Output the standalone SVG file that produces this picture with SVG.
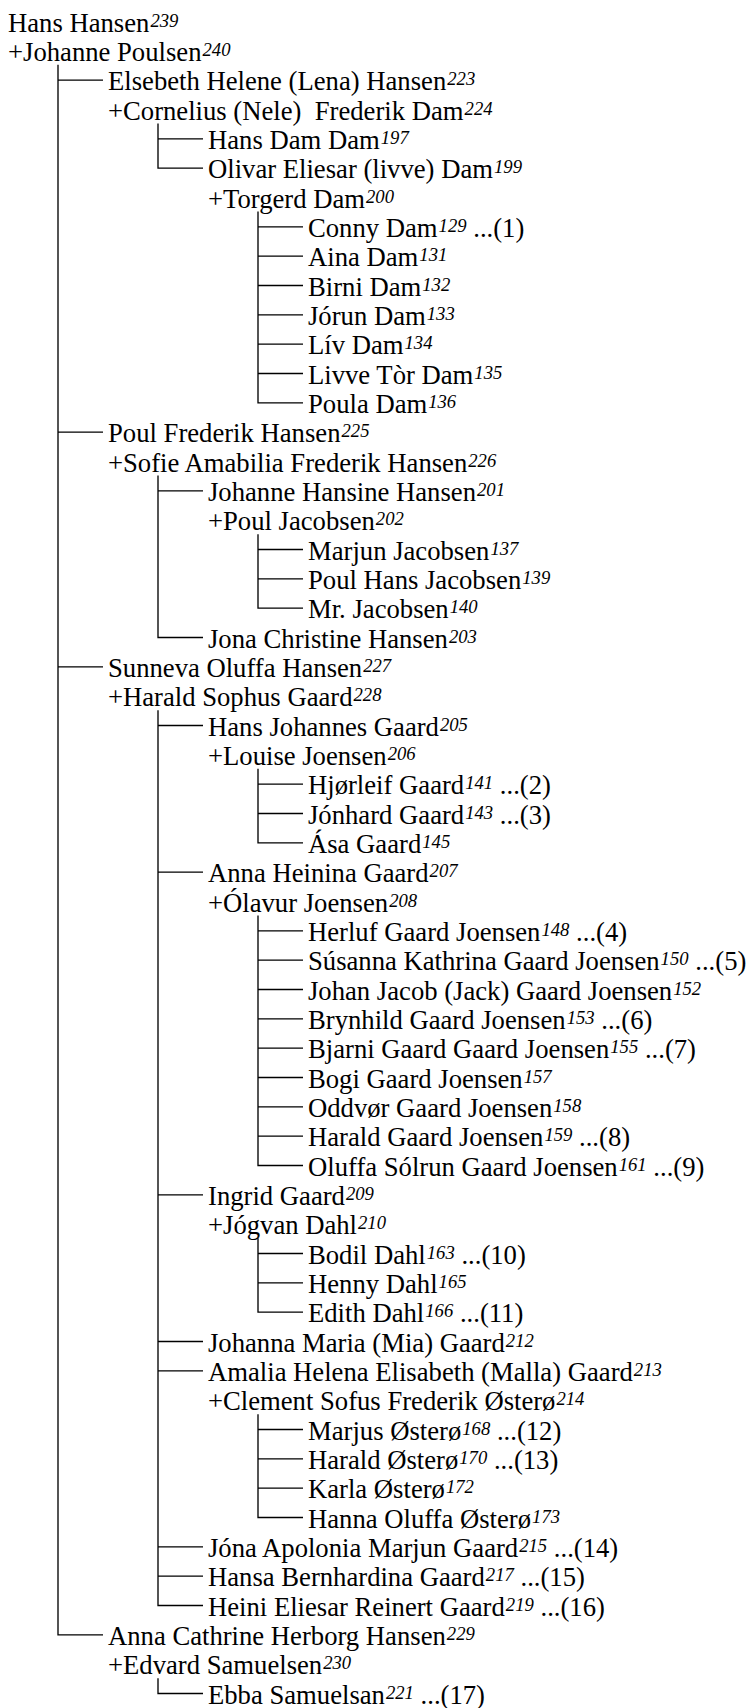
<svg xmlns="http://www.w3.org/2000/svg" width="752" height="1708" viewBox="0 0 752 1708">
<style>
.t{font-family:"Liberation Serif","Times New Roman",serif;font-size:26.67px;fill:#000}
.s{font-style:italic;font-size:18.67px}
.c{fill:none;stroke:#000;stroke-width:1.33}
</style>
<rect width="752" height="1708" fill="#fff"/>
<g id="connectors" class="c">
<path d="M58,64.8V1634.8H103M58,80.2H103M58,432.2H103M58,666.8H103"/>
<path d="M158,123.5V168.2H203M158,138.8H203"/>
<path d="M258,211.5V402.8H303M258,226.8H303M258,256.2H303M258,285.5H303M258,314.8H303M258,344.2H303M258,373.5H303"/>
<path d="M158,475.5V637.5H203M158,490.8H203"/>
<path d="M258,534.2V608.2H303M258,549.5H303M258,578.8H303"/>
<path d="M158,710.2V1605.5H203M158,725.5H203M158,872.2H203M158,1194.8H203M158,1341.5H203M158,1370.8H203M158,1546.8H203M158,1576.2H203"/>
<path d="M258,768.8V842.8H303M258,784.2H303M258,813.5H303"/>
<path d="M258,915.5V1165.5H303M258,930.8H303M258,960.2H303M258,989.5H303M258,1018.8H303M258,1048.2H303M258,1077.5H303M258,1106.8H303M258,1136.2H303"/>
<path d="M258,1238.2V1312.2H303M258,1253.5H303M258,1282.8H303"/>
<path d="M258,1414.2V1517.5H303M258,1429.5H303M258,1458.8H303M258,1488.2H303"/>
<path d="M158,1678.2V1693.5H203"/>
</g>
<g id="r00"><text class="t" x="8" y="31.5">Hans Hansen<tspan class="s" dx="1" dy="-5">239</tspan></text></g>
<g id="r01"><text class="t" x="8" y="60.8">+Johanne Poulsen<tspan class="s" dx="1" dy="-5">240</tspan></text></g>
<g id="r02"><text class="t" x="108" y="90.2">Elsebeth Helene (Lena) Hansen<tspan class="s" dx="1" dy="-5">223</tspan></text></g>
<g id="r03"><text class="t" x="108" y="119.5" xml:space="preserve">+Cornelius (Nele)  Frederik Dam<tspan class="s" dx="1" dy="-5">224</tspan></text></g>
<g id="r04"><text class="t" x="208" y="148.8">Hans Dam Dam<tspan class="s" dx="1" dy="-5">197</tspan></text></g>
<g id="r05"><text class="t" x="208" y="178.2">Olivar Eliesar (livve) Dam<tspan class="s" dx="1" dy="-5">199</tspan></text></g>
<g id="r06"><text class="t" x="208" y="207.5">+Torgerd Dam<tspan class="s" dx="1" dy="-5">200</tspan></text></g>
<g id="r07"><text class="t" x="308" y="236.8">Conny Dam<tspan class="s" dx="1" dy="-5">129</tspan><tspan dy="5"> ...(1)</tspan></text></g>
<g id="r08"><text class="t" x="308" y="266.2">Aina Dam<tspan class="s" dx="1" dy="-5">131</tspan></text></g>
<g id="r09"><text class="t" x="308" y="295.5">Birni Dam<tspan class="s" dx="1" dy="-5">132</tspan></text></g>
<g id="r10"><text class="t" x="308" y="324.8">Jórun Dam<tspan class="s" dx="1" dy="-5">133</tspan></text></g>
<g id="r11"><text class="t" x="308" y="354.2">Lív Dam<tspan class="s" dx="1" dy="-5">134</tspan></text></g>
<g id="r12"><text class="t" x="308" y="383.5">Livve Tòr Dam<tspan class="s" dx="1" dy="-5">135</tspan></text></g>
<g id="r13"><text class="t" x="308" y="412.8">Poula Dam<tspan class="s" dx="1" dy="-5">136</tspan></text></g>
<g id="r14"><text class="t" x="108" y="442.2">Poul Frederik Hansen<tspan class="s" dx="1" dy="-5">225</tspan></text></g>
<g id="r15"><text class="t" x="108" y="471.5">+Sofie Amabilia Frederik Hansen<tspan class="s" dx="1" dy="-5">226</tspan></text></g>
<g id="r16"><text class="t" x="208" y="500.8">Johanne Hansine Hansen<tspan class="s" dx="1" dy="-5">201</tspan></text></g>
<g id="r17"><text class="t" x="208" y="530.2">+Poul Jacobsen<tspan class="s" dx="1" dy="-5">202</tspan></text></g>
<g id="r18"><text class="t" x="308" y="559.5">Marjun Jacobsen<tspan class="s" dx="1" dy="-5">137</tspan></text></g>
<g id="r19"><text class="t" x="308" y="588.8">Poul Hans Jacobsen<tspan class="s" dx="1" dy="-5">139</tspan></text></g>
<g id="r20"><text class="t" x="308" y="618.2">Mr. Jacobsen<tspan class="s" dx="1" dy="-5">140</tspan></text></g>
<g id="r21"><text class="t" x="208" y="647.5">Jona Christine Hansen<tspan class="s" dx="1" dy="-5">203</tspan></text></g>
<g id="r22"><text class="t" x="108" y="676.8">Sunneva Oluffa Hansen<tspan class="s" dx="1" dy="-5">227</tspan></text></g>
<g id="r23"><text class="t" x="108" y="706.2">+Harald Sophus Gaard<tspan class="s" dx="1" dy="-5">228</tspan></text></g>
<g id="r24"><text class="t" x="208" y="735.5">Hans Johannes Gaard<tspan class="s" dx="1" dy="-5">205</tspan></text></g>
<g id="r25"><text class="t" x="208" y="764.8">+Louise Joensen<tspan class="s" dx="1" dy="-5">206</tspan></text></g>
<g id="r26"><text class="t" x="308" y="794.2">Hjørleif Gaard<tspan class="s" dx="1" dy="-5">141</tspan><tspan dy="5"> ...(2)</tspan></text></g>
<g id="r27"><text class="t" x="308" y="823.5">Jónhard Gaard<tspan class="s" dx="1" dy="-5">143</tspan><tspan dy="5"> ...(3)</tspan></text></g>
<g id="r28"><text class="t" x="308" y="852.8">Ása Gaard<tspan class="s" dx="1" dy="-5">145</tspan></text></g>
<g id="r29"><text class="t" x="208" y="882.2">Anna Heinina Gaard<tspan class="s" dx="1" dy="-5">207</tspan></text></g>
<g id="r30"><text class="t" x="208" y="911.5">+Ólavur Joensen<tspan class="s" dx="1" dy="-5">208</tspan></text></g>
<g id="r31"><text class="t" x="308" y="940.8">Herluf Gaard Joensen<tspan class="s" dx="1" dy="-5">148</tspan><tspan dy="5"> ...(4)</tspan></text></g>
<g id="r32"><text class="t" x="308" y="970.2">Súsanna Kathrina Gaard Joensen<tspan class="s" dx="1" dy="-5">150</tspan><tspan dy="5"> ...(5)</tspan></text></g>
<g id="r33"><text class="t" x="308" y="999.5">Johan Jacob (Jack) Gaard Joensen<tspan class="s" dx="1" dy="-5">152</tspan></text></g>
<g id="r34"><text class="t" x="308" y="1028.8">Brynhild Gaard Joensen<tspan class="s" dx="1" dy="-5">153</tspan><tspan dy="5"> ...(6)</tspan></text></g>
<g id="r35"><text class="t" x="308" y="1058.2">Bjarni Gaard Gaard Joensen<tspan class="s" dx="1" dy="-5">155</tspan><tspan dy="5"> ...(7)</tspan></text></g>
<g id="r36"><text class="t" x="308" y="1087.5">Bogi Gaard Joensen<tspan class="s" dx="1" dy="-5">157</tspan></text></g>
<g id="r37"><text class="t" x="308" y="1116.8">Oddvør Gaard Joensen<tspan class="s" dx="1" dy="-5">158</tspan></text></g>
<g id="r38"><text class="t" x="308" y="1146.2">Harald Gaard Joensen<tspan class="s" dx="1" dy="-5">159</tspan><tspan dy="5"> ...(8)</tspan></text></g>
<g id="r39"><text class="t" x="308" y="1175.5">Oluffa Sólrun Gaard Joensen<tspan class="s" dx="1" dy="-5">161</tspan><tspan dy="5"> ...(9)</tspan></text></g>
<g id="r40"><text class="t" x="208" y="1204.8">Ingrid Gaard<tspan class="s" dx="1" dy="-5">209</tspan></text></g>
<g id="r41"><text class="t" x="208" y="1234.2">+Jógvan Dahl<tspan class="s" dx="1" dy="-5">210</tspan></text></g>
<g id="r42"><text class="t" x="308" y="1263.5">Bodil Dahl<tspan class="s" dx="1" dy="-5">163</tspan><tspan dy="5"> ...(10)</tspan></text></g>
<g id="r43"><text class="t" x="308" y="1292.8">Henny Dahl<tspan class="s" dx="1" dy="-5">165</tspan></text></g>
<g id="r44"><text class="t" x="308" y="1322.2">Edith Dahl<tspan class="s" dx="1" dy="-5">166</tspan><tspan dy="5"> ...(11)</tspan></text></g>
<g id="r45"><text class="t" x="208" y="1351.5">Johanna Maria (Mia) Gaard<tspan class="s" dx="1" dy="-5">212</tspan></text></g>
<g id="r46"><text class="t" x="208" y="1380.8">Amalia Helena Elisabeth (Malla) Gaard<tspan class="s" dx="1" dy="-5">213</tspan></text></g>
<g id="r47"><text class="t" x="208" y="1410.2">+Clement Sofus Frederik Østerø<tspan class="s" dx="1" dy="-5">214</tspan></text></g>
<g id="r48"><text class="t" x="308" y="1439.5">Marjus Østerø<tspan class="s" dx="1" dy="-5">168</tspan><tspan dy="5"> ...(12)</tspan></text></g>
<g id="r49"><text class="t" x="308" y="1468.8">Harald Østerø<tspan class="s" dx="1" dy="-5">170</tspan><tspan dy="5"> ...(13)</tspan></text></g>
<g id="r50"><text class="t" x="308" y="1498.2">Karla Østerø<tspan class="s" dx="1" dy="-5">172</tspan></text></g>
<g id="r51"><text class="t" x="308" y="1527.5">Hanna Oluffa Østerø<tspan class="s" dx="1" dy="-5">173</tspan></text></g>
<g id="r52"><text class="t" x="208" y="1556.8">Jóna Apolonia Marjun Gaard<tspan class="s" dx="1" dy="-5">215</tspan><tspan dy="5"> ...(14)</tspan></text></g>
<g id="r53"><text class="t" x="208" y="1586.2">Hansa Bernhardina Gaard<tspan class="s" dx="1" dy="-5">217</tspan><tspan dy="5"> ...(15)</tspan></text></g>
<g id="r54"><text class="t" x="208" y="1615.5">Heini Eliesar Reinert Gaard<tspan class="s" dx="1" dy="-5">219</tspan><tspan dy="5"> ...(16)</tspan></text></g>
<g id="r55"><text class="t" x="108" y="1644.8">Anna Cathrine Herborg Hansen<tspan class="s" dx="1" dy="-5">229</tspan></text></g>
<g id="r56"><text class="t" x="108" y="1674.2">+Edvard Samuelsen<tspan class="s" dx="1" dy="-5">230</tspan></text></g>
<g id="r57"><text class="t" x="208" y="1703.5">Ebba Samuelsan<tspan class="s" dx="1" dy="-5">221</tspan><tspan dy="5"> ...(17)</tspan></text></g>
</svg>
